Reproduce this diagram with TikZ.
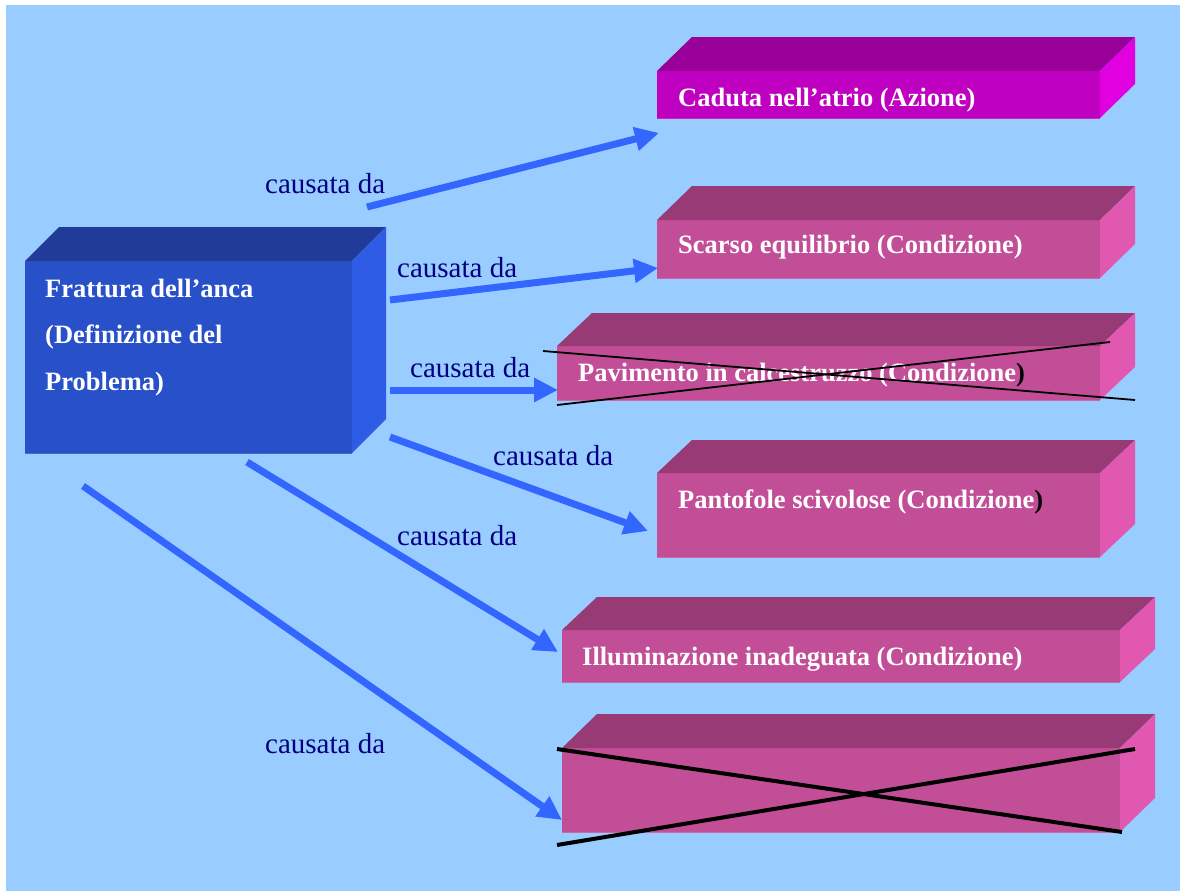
\documentclass[tikz,border=0pt]{standalone}
\usepackage{fontspec}
\setmainfont{Liberation Serif}
\usetikzlibrary{arrows.meta}

\definecolor{bg}{RGB}{153,204,255}
\definecolor{arrowblue}{RGB}{51,102,255}
\definecolor{labelnavy}{RGB}{0,0,128}
% problem box (blue)
\definecolor{pfront}{RGB}{40,80,200}
\definecolor{ptop}{RGB}{32,60,152}
\definecolor{pside}{RGB}{46,92,228}
% action box (magenta)
\definecolor{afront}{RGB}{192,0,192}
\definecolor{atop}{RGB}{153,0,153}
\definecolor{aside}{RGB}{224,0,224}
% condition boxes (pink)
\definecolor{cfront}{RGB}{194,78,152}
\definecolor{ctop}{RGB}{152,58,118}
\definecolor{cside}{RGB}{224,88,176}

% 3D box: front top-left (#1,#2), front bottom-right (#3,#4), depth (#5,#6), colours #7 #8 #9
\newcommand\prismbox[9]{%
  \fill[#7] (#1,#2) rectangle (#3,#4);
  \fill[#8] (#1,#2) -- (#1+#5,#2-#6) -- (#3+#5,#2-#6) -- (#3,#2) -- cycle;
  \fill[#9] (#3,#2) -- (#3+#5,#2-#6) -- (#3+#5,#4-#6) -- (#3,#4) -- cycle;
  \draw[#7!85!white, line width=1bp] (#1,#4) -- (#3,#4);
}

\tikzset{
  boxtext/.style={text=white, font=\fontsize{26.5bp}{30bp}\selectfont\bfseries, inner sep=0pt, anchor=base west},
  reltext/.style={text=labelnavy, font=\fontsize{29bp}{32bp}\selectfont, inner sep=0pt, anchor=base west},
  causearrow/.style={draw=arrowblue, line width=7bp, -{Triangle[length=24bp,width=23bp]}},
  crossthin/.style={draw=black, line width=1.8bp},
  crossthick/.style={draw=black, line width=4bp}
}

\begin{document}
\begin{tikzpicture}[x=1bp,y=-1bp]
  \useasboundingbox (0,0) rectangle (1180,891);
  \fill[white] (-5,-5) rectangle (1190,900);
  \fill[bg] (6,5) rectangle (1190,900);

  % boxes
  \prismbox{25}{261}{352}{453}{34}{34}{pfront}{ptop}{pside}
  \prismbox{657}{71}{1100}{118}{35}{34}{afront}{atop}{aside}
  \prismbox{657}{220}{1100}{278}{35}{34}{cfront}{ctop}{cside}
  \prismbox{557}{346}{1100}{400}{35}{33}{cfront}{ctop}{cside}
  \prismbox{657}{473}{1100}{557}{35}{33}{cfront}{ctop}{cside}
  \prismbox{562}{630}{1120}{682}{35}{33}{cfront}{ctop}{cside}
  \prismbox{562}{748}{1120}{832}{35}{34}{cfront}{ctop}{cside}

  % box texts
  \node[boxtext] (prob1) at (45,297) {Frattura dell’anca};
  \node[boxtext] (prob2) at (45,343) {(Definizione del};
  \node[boxtext] (prob3) at (45,390) {Problema)};
  \node[boxtext] (caduta) at (678,106) {Caduta nell’atrio (Azione)};
  \node[boxtext] (scarso) at (678,253) {Scarso equilibrio (Condizione)};
  \node[boxtext] (pavimento) at (578,381) {Pavimento in calcestruzzo (Condizione\textcolor{black}{)}};
  \node[boxtext] (pantofole) at (678,508) {Pantofole scivolose (Condizione\textcolor{black}{)}};
  \node[boxtext] (illum) at (582,665) {Illuminazione inadeguata (Condizione)};

  % crossed-out boxes
  \draw[crossthin] (543,351) -- (1135,400);
  \draw[crossthin] (557,405) -- (1110,342);
  \draw[crossthick] (557,749) -- (1122,832);
  \draw[crossthick] (557,845) -- (1135,749);

  % arrow end points
  \coordinate (s1) at (367,207);  \coordinate (e1) at (659,133);
  \coordinate (s2) at (390,300);  \coordinate (e2) at (658,268);
  \coordinate (s3) at (390,390);  \coordinate (e3) at (558,390);
  \coordinate (s4) at (390,437);  \coordinate (e4) at (648,531);
  \coordinate (s5) at (247,462);  \coordinate (e5) at (558,652);
  \coordinate (s6) at (83,486);   \coordinate (e6) at (562,820);

  \draw[causearrow] (s1) -- (e1);
  \draw[causearrow] (s2) -- (e2);
  \draw[causearrow] (s3) -- (e3);
  \draw[causearrow] (s4) -- (e4);
  \draw[causearrow] (s5) -- (e5);
  \draw[causearrow] (s6) -- (e6);

  % relation labels
  \node[reltext] (r1) at (265,193) {causata da};
  \node[reltext] (r2) at (397,277) {causata da};
  \node[reltext] (r3) at (410,377) {causata da};
  \node[reltext] (r4) at (493,465) {causata da};
  \node[reltext] (r5) at (397,545) {causata da};
  \node[reltext] (r6) at (265,753) {causata da};
\end{tikzpicture}
\end{document}
